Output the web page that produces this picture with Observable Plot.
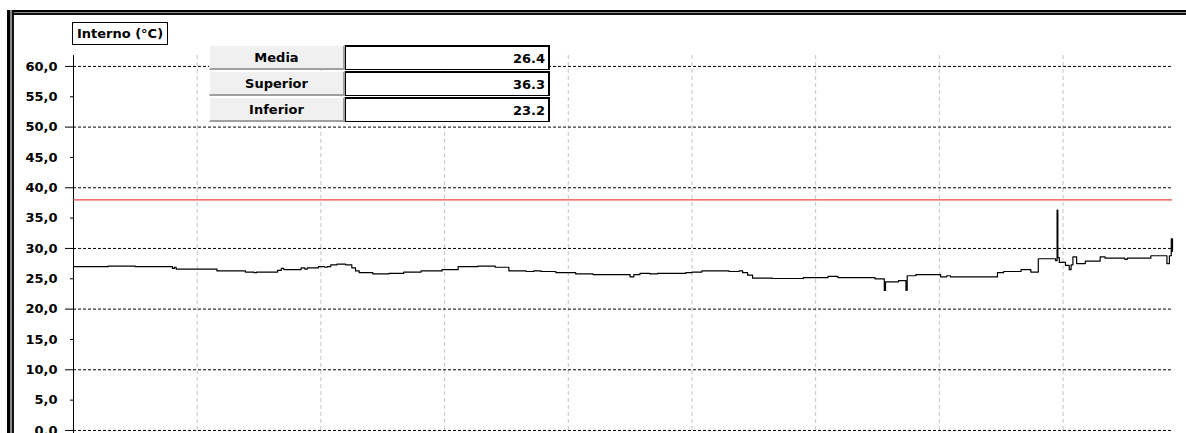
<!DOCTYPE html>
<html>
<head>
<meta charset="utf-8">
<script src="https://cdn.jsdelivr.net/npm/d3@7"></script>
<script src="https://cdn.jsdelivr.net/npm/@observablehq/plot@0.6"></script>
<style>
  html, body { margin: 0; padding: 0; background: #fff; }
  #wrap { position: relative; width: 1186px; height: 433px; overflow: hidden; font-family: "DejaVu Sans", sans-serif; }
  #wrap svg { position: absolute; left: 0; top: 0; }
  #wrap svg text.ylab { font-size: 13px !important; font-weight: bold; }
  .frameTop { position: absolute; left: 7px; top: 10px; width: 1179px; height: 1px; border-top: 2px solid #000; border-bottom: 2px solid #111; background: #8a8a8a; }
  .frameLeft { position: absolute; left: 7px; top: 10px; width: 2px; height: 423px; border-left: 3px solid #000; border-right: 2px solid #111; background: #8a8a8a; }
  .title { position: absolute; left: 72px; top: 22px; width: 94px; height: 21px; border: 1px solid #000; background: #fff;
           font: bold 13px "DejaVu Sans", sans-serif; line-height: 21px; text-align: center; color: #000; }
  table.stats { position: absolute; left: 209px; top: 44px; border-collapse: separate; border-spacing: 0 1px; font: bold 13px "DejaVu Sans", sans-serif; color: #000; }
  table.stats td { height: 22px; padding: 0; }
  td.lab { width: 133px; background: #f0f0f0; text-align: center; border-top: 1px solid #fff; border-left: 1px solid #fff; border-bottom: 2px solid #a0a0a0; border-right: 2px solid #a0a0a0; }
  td.val { width: 199px; background: #fff; text-align: right; padding-right: 3px !important; border-top: 2px solid #000; border-left: 1px solid #000; border-right: 2px solid #000; border-bottom: 1px solid #000; }
</style>
</head>
<body>
<div id="wrap"></div>
<script>
// ---- data ----
const times = [0.00,0.28,0.50,0.80,0.815,0.83,1.16,1.39,1.46,1.48,1.65,1.68,1.70,1.84,1.87,1.89,1.98,2.03,2.05,2.08,2.13,2.20,2.25,2.28,2.31,2.42,2.55,2.67,2.81,2.98,3.11,3.27,3.41,3.52,3.66,3.72,3.78,3.90,4.06,4.20,4.35,4.50,4.53,4.58,4.66,4.72,4.95,5.00,5.08,5.30,5.38,5.41,5.45,5.49,5.65,5.90,6.10,6.18,6.48,6.555,6.565,6.67,6.73,6.74,6.81,7.01,7.06,7.09,7.47,7.52,7.66,7.74,7.80,7.94,7.952,7.958,7.97,8.02,8.05,8.065,8.08,8.11,8.18,8.30,8.34,8.50,8.52,8.71,8.84,8.86,8.875,8.885];
const temps = [27.0,27.1,27.0,26.7,26.9,26.6,26.3,26.1,26.0,26.1,26.4,26.7,26.5,26.8,26.6,26.8,27.0,26.9,27.0,27.3,27.4,27.3,26.8,26.3,26.0,25.8,25.9,26.1,26.3,26.5,27.0,27.1,26.9,26.3,26.2,26.3,26.2,26.0,25.8,25.7,25.7,25.3,25.7,25.9,25.8,25.9,26.0,26.1,26.3,26.2,26.3,26.0,25.6,25.1,25.05,25.2,25.4,25.2,25.0,23.1,24.5,24.7,23.1,25.5,25.7,25.3,25.5,25.3,26.0,26.2,26.5,26.1,28.3,28.0,36.3,28.5,27.7,27.2,26.5,27.3,28.6,27.5,27.9,28.6,28.4,28.2,28.4,28.8,27.5,28.8,31.6,29.5];
const limit = 38;
const majorTicks = [0, 10, 20, 30, 40, 50, 60];
const minorTicks = [5, 15, 25, 35, 45, 55];
const allTicks = [0, 5, 10, 15, 20, 25, 30, 35, 40, 45, 50, 55, 60];
const vGrid = [1, 2, 3, 4, 5, 6, 7, 8];
const xEnd = 8.885;
const titleText = "Interno (°C)";
const statLabels = ["Media", "Superior", "Inferior"];
const statValues = ["26.4", "36.3", "23.2"];

const series = times.map((t, i) => ({t, v: temps[i]}));
const fmt = d => d.toFixed(1).replace(".", ",");

const chart = Plot.plot({
  width: 1186,
  height: 433,
  marginLeft: 73,
  marginRight: 14,
  marginTop: 55,
  marginBottom: 0,
  x: {domain: [0, xEnd], axis: null},
  y: {domain: [-0.5, 61.8], label: null, axis: null},
  style: {background: "transparent", fontFamily: "DejaVu Sans"},
  marks: [
    Plot.gridX(vGrid, {stroke: "#c4c4c4", strokeOpacity: 1, strokeDasharray: "4,3"}),
    Plot.gridY(majorTicks, {stroke: "#000", strokeOpacity: 1, strokeDasharray: "3,2"}),
    Plot.axisY(majorTicks, {tickSize: 8, tickFormat: () => "", stroke: "#000", label: null}),
    Plot.axisY(minorTicks, {tickSize: 3, tickFormat: () => "", stroke: "#000", label: null}),
    Plot.text(allTicks, {y: d => d, text: fmt, frameAnchor: "left", textAnchor: "end", dx: -16, fontSize: "13px", fontWeight: "bold", fill: "#000", fontFamily: "DejaVu Sans", className: "ylab"}),
    Plot.ruleX([0], {stroke: "#000", strokeWidth: 1}),
    Plot.ruleY([limit], {stroke: "#f04545", strokeWidth: 1.3}),
    Plot.line(series, {x: "t", y: "v", curve: "step-after", stroke: "#000", strokeWidth: 1.2})
  ]
});

const wrap = document.getElementById("wrap");
wrap.appendChild(chart);
// enforce label font size on the text elements Plot produced
chart.querySelectorAll("text").forEach(t => { t.setAttribute("font-size", "13"); t.style.fontSize = "13px"; t.style.fontWeight = "bold"; });

const ft = document.createElement("div"); ft.className = "frameTop"; wrap.appendChild(ft);
const fl = document.createElement("div"); fl.className = "frameLeft"; wrap.appendChild(fl);

const title = document.createElement("div");
title.className = "title";
title.textContent = titleText;
wrap.appendChild(title);

const tbl = document.createElement("table");
tbl.className = "stats";
statLabels.forEach((lab, i) => {
  const tr = document.createElement("tr");
  const a = document.createElement("td"); a.className = "lab"; a.textContent = lab;
  const b = document.createElement("td"); b.className = "val"; b.textContent = statValues[i];
  tr.appendChild(a); tr.appendChild(b);
  tbl.appendChild(tr);
});
wrap.appendChild(tbl);
</script>
</body>
</html>
